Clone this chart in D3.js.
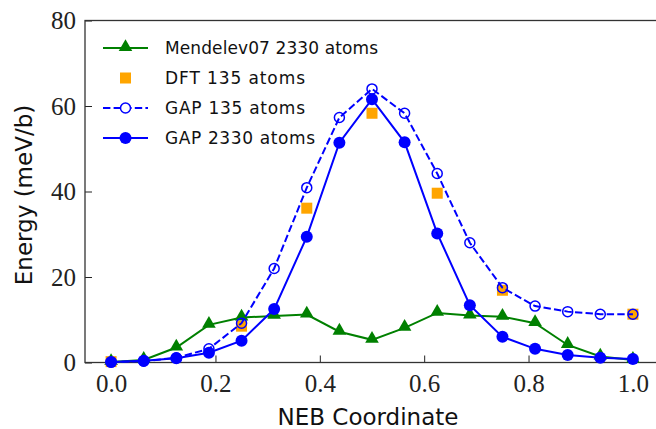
<!DOCTYPE html>
<html>
<head>
<meta charset="utf-8" />
<title>NEB energy</title>
<script src="https://cdn.jsdelivr.net/npm/d3@7"></script>
<style>
  body { margin: 0; background: #fff; }
  .tick text { font-family: "Liberation Serif", serif; }
</style>
</head>
<body>
<script>

// data, NEB images at i/16
var coords = d3.range(17).map(function (i) { return i / 16; });
var mendelev = [0.1, 0.6, 3.5, 8.8, 10.5, 10.9, 11.2, 7.2, 5.3, 8.1, 11.6, 11.0, 10.7, 9.2, 4.1, 1.4, 0.6];
var gap135 = [0.1, 0.3, 1.1, 3.2, 9.2, 22.0, 40.9, 57.3, 64.0, 58.3, 44.2, 28.0, 17.5, 13.2, 11.9, 11.3, 11.3];
var gap2330 = [0.1, 0.4, 1.0, 2.3, 5.1, 12.5, 29.4, 51.4, 61.6, 51.5, 30.2, 13.4, 6.0, 3.2, 1.75, 1.1, 0.8];
var dftX = [0, 0.25, 0.375, 0.5, 0.625, 0.75, 1.0];
var dftY = [0.2, 8.5, 36.1, 58.3, 39.6, 16.9, 11.3];
var xTicks = [0.0, 0.2, 0.4, 0.6, 0.8, 1.0];
var yTicks = [0, 20, 40, 60, 80];
var labels = ["Mendelev07 2330 atoms", "DFT 135 atoms", "GAP 135 atoms", "GAP 2330 atoms"];

var w = 656, h = 429;
var svg = d3.select("body").append("svg").attr("width", w).attr("height", h);

var x = d3.scaleLinear().domain([-0.05, 1.05]).range([85, 659]);
var y = d3.scaleLinear().domain([0, 80]).range([362.5, 20.5]);

var line = d3.line()
    .x(function (d) { return x(d[0]); })
    .y(function (d) { return y(d[1]); });

// axes (ticks pointing inward)
svg.append("g")
    .attr("transform", "translate(0," + y(0) + ")")
    .call(d3.axisBottom(x).tickValues(xTicks).tickFormat(d3.format(".1f")).tickSizeInner(-7).tickSizeOuter(0).tickPadding(12))
    .call(function (g) {
        g.select(".domain").remove();
        g.selectAll("text").attr("font-size", "25px").attr("fill", "#222");
        g.selectAll("line").attr("stroke", "#222");
    });

svg.append("g")
    .attr("transform", "translate(" + x(-0.05) + ",0)")
    .call(d3.axisLeft(y).tickValues(yTicks).tickSizeInner(-7).tickSizeOuter(0).tickPadding(9))
    .call(function (g) {
        g.select(".domain").remove();
        g.selectAll("text").attr("font-size", "25px").attr("fill", "#222");
        g.selectAll("line").attr("stroke", "#222");
    });

// spines
svg.append("rect")
    .attr("x", x(-0.05)).attr("y", y(80))
    .attr("width", x(1.05) - x(-0.05)).attr("height", y(0) - y(80))
    .attr("fill", "none").attr("stroke", "#333").attr("stroke-width", 1.3);

var pts = function (ys) { return coords.map(function (c, i) { return [c, ys[i]]; }); };

// Mendelev07
svg.append("path").datum(pts(mendelev)).attr("d", line)
    .attr("fill", "none").attr("stroke", "green").attr("stroke-width", 2);
var tri = d3.symbol().type(d3.symbolTriangle).size(80);
svg.selectAll(".tri").data(pts(mendelev)).enter().append("path")
    .attr("d", tri)
    .attr("transform", function (d) { return "translate(" + x(d[0]) + "," + (y(d[1]) - 1) + ")"; })
    .attr("fill", "green");

// DFT
svg.selectAll(".dft").data(dftX).enter().append("rect")
    .attr("x", function (d) { return x(d) - 5.5; })
    .attr("y", function (d, i) { return y(dftY[i]) - 5.5; })
    .attr("width", 11).attr("height", 11)
    .attr("fill", "orange");

// GAP 135
svg.append("path").datum(pts(gap135)).attr("d", line)
    .attr("fill", "none").attr("stroke", "blue").attr("stroke-width", 2)
    .attr("stroke-dasharray", "7.4,3.2");
svg.selectAll(".open").data(pts(gap135)).enter().append("circle")
    .attr("cx", function (d) { return x(d[0]); })
    .attr("cy", function (d) { return y(d[1]); })
    .attr("r", 5).attr("fill", "none").attr("stroke", "blue").attr("stroke-width", 1.5);

// GAP 2330
svg.append("path").datum(pts(gap2330)).attr("d", line)
    .attr("fill", "none").attr("stroke", "blue").attr("stroke-width", 2);
svg.selectAll(".full").data(pts(gap2330)).enter().append("circle")
    .attr("cx", function (d) { return x(d[0]); })
    .attr("cy", function (d) { return y(d[1]); })
    .attr("r", 6).attr("fill", "blue");

// legend
var lg = svg.append("g").attr("font-family", "'DejaVu Sans', sans-serif").attr("font-size", "17px");
var rowY = [48, 78, 108, 138];
var hx0 = 103, hx1 = 148, hxm = 125.5;
lg.append("line").attr("x1", hx0).attr("x2", hx1).attr("y1", rowY[0]).attr("y2", rowY[0]).attr("stroke", "green").attr("stroke-width", 2);
lg.append("path").attr("d", tri).attr("transform", "translate(" + hxm + "," + (rowY[0] - 1) + ")").attr("fill", "green");
lg.append("rect").attr("x", hxm - 5.5).attr("y", rowY[1] - 5.5).attr("width", 11).attr("height", 11).attr("fill", "orange");
lg.append("line").attr("x1", hx0).attr("x2", hx1).attr("y1", rowY[2]).attr("y2", rowY[2]).attr("stroke", "blue").attr("stroke-width", 2).attr("stroke-dasharray", "7.4,3.2");
lg.append("circle").attr("cx", hxm).attr("cy", rowY[2]).attr("r", 5).attr("fill", "white").attr("stroke", "blue").attr("stroke-width", 1.5);
lg.append("line").attr("x1", hx0).attr("x2", hx1).attr("y1", rowY[3]).attr("y2", rowY[3]).attr("stroke", "blue").attr("stroke-width", 2);
lg.append("circle").attr("cx", hxm).attr("cy", rowY[3]).attr("r", 6).attr("fill", "blue");
lg.selectAll("text").data(labels).enter().append("text")
    .attr("x", 165).attr("y", function (d, i) { return rowY[i] + 6; })
    .attr("fill", "#111")
    .attr("textLength", function (d, i) { return [213, 140, 140, 150][i]; })
    .text(function (d) { return d; });

// axis labels
svg.append("text")
    .attr("x", 368).attr("y", 425)
    .attr("text-anchor", "middle")
    .attr("font-family", "'DejaVu Sans', sans-serif").attr("font-size", "23px").attr("fill", "#111")
    .text("NEB Coordinate");
svg.append("text")
    .attr("transform", "translate(32,195) rotate(-90)")
    .attr("text-anchor", "middle")
    .attr("font-family", "'DejaVu Sans', sans-serif").attr("font-size", "23px").attr("fill", "#111")
    .text("Energy (meV/b)");

</script>
</body>
</html>
